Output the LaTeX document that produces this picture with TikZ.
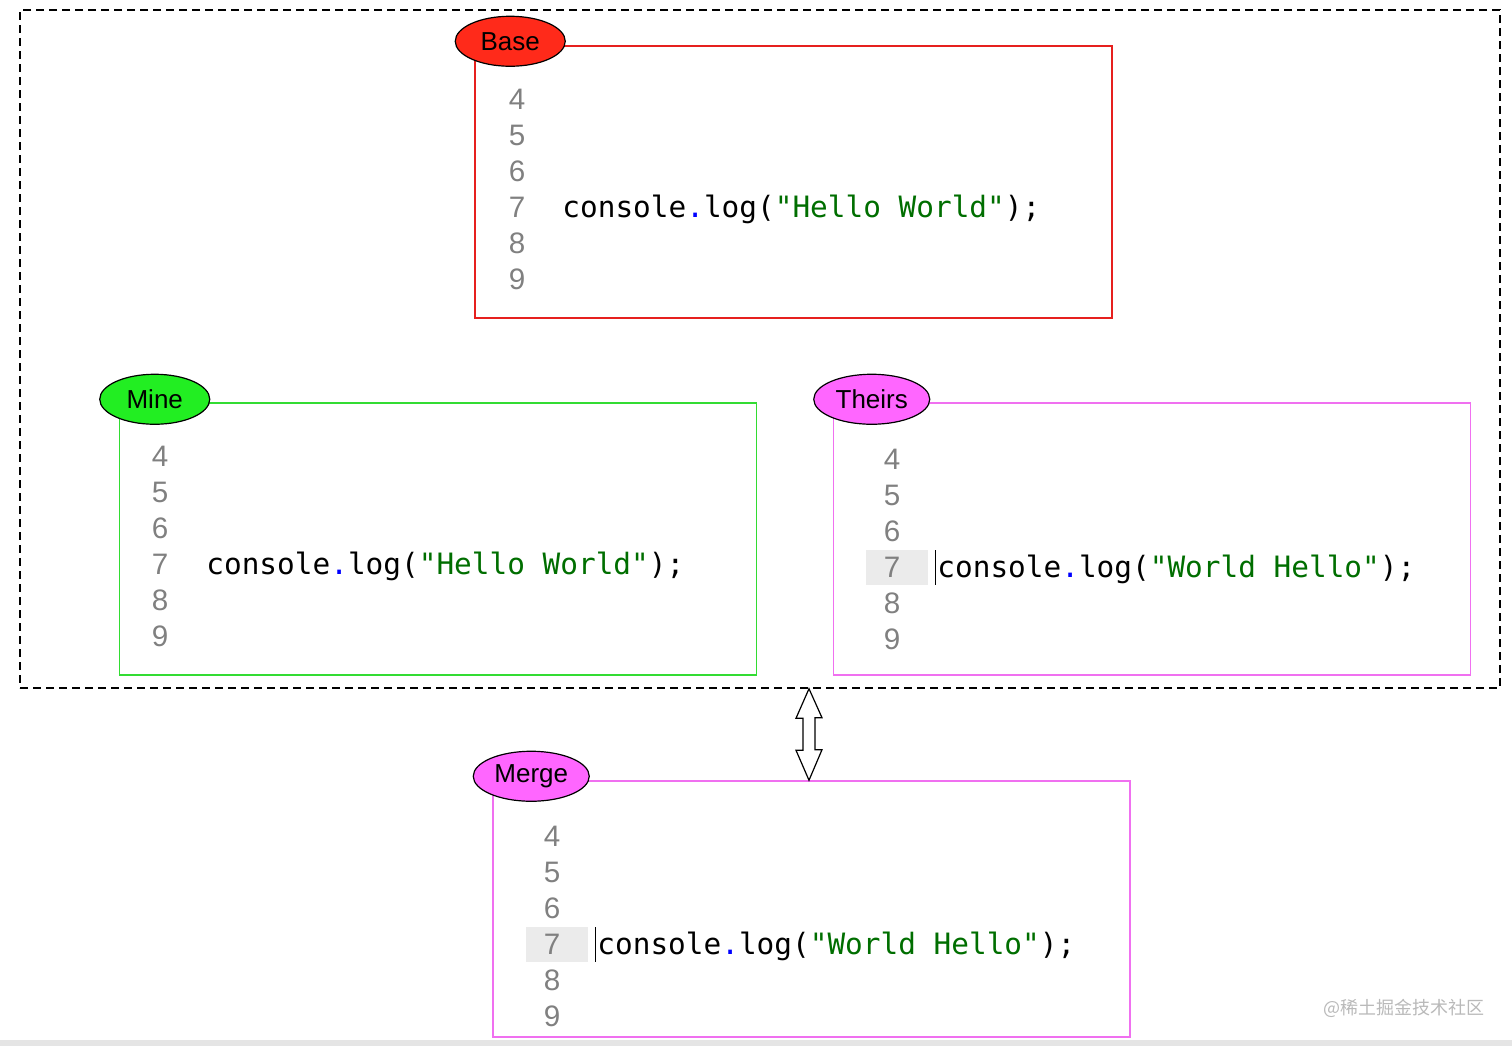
\documentclass[tikz,border=0pt]{standalone}
\usepackage{fontspec}
\setmainfont{Liberation Sans}
\setmonofont{DejaVu Sans Mono}
\newfontfamily\cjk{Noto Sans CJK SC}
\usepackage{tikz}
\usetikzlibrary{positioning,shapes.geometric}
\definecolor{basered}{RGB}{255,42,26}
\definecolor{baseline}{RGB}{230,32,30}
\definecolor{minegreen}{RGB}{34,238,34}
\definecolor{mineline}{RGB}{50,220,50}
\definecolor{theirsfill}{RGB}{255,102,255}
\definecolor{theirsline}{RGB}{240,112,240}
\definecolor{strgreen}{RGB}{0,110,0}
\definecolor{gutter}{RGB}{235,235,235}

\begin{document}
\begin{tikzpicture}[x=0.5pt, y=-0.5pt,
    box/.style = {draw, line width=0.75pt, minimum width=318.5pt, minimum height=136pt, inner sep=0pt},
    tag/.style = {draw, ellipse, line width=0.6pt, minimum width=55pt, minimum height=25pt, inner sep=0pt, font=\fontsize{13}{14}\selectfont},
    lnum/.style = {anchor=base, inner sep=0pt, text=gray, font=\fontsize{14.8}{16}\selectfont},
    code/.style = {anchor=base west, inner sep=0pt, font=\ttfamily\fontsize{14.7}{17}\selectfont}]
    \useasboundingbox (0,0) rectangle (1512,1046);
    \fill[gray!20] (0,1040) rectangle (1512,1046);

    % the three versions
    \node[draw, dashed, dash pattern=on 4pt off 2.5pt, line width=0.7pt, minimum width=740pt, minimum height=339pt, inner sep=0pt] (frame) at (760,349) {};
    \node[box, draw=baseline] (base) at (793.5,182) {};
    \node[box, draw=mineline] (mine) at (438,539) {};
    \node[box, draw=theirsline] (theirs) at (1152,539) {};
    \node[box, draw=theirsline, minimum height=128pt] (merge) at (811.5,909) {};

    \node[tag, fill=basered] (baseTag) at ([shift={(36,-4)}]base.north west) {\raisebox{-1pt}{Base}};
    \node[tag, fill=minegreen] (mineTag) at ([shift={(36,-3)}]mine.north west) {\raisebox{-1pt}{Mine}};
    \node[tag, fill=theirsfill, minimum width=58pt] (theirsTag) at ([shift={(39,-3)}]theirs.north west) {\raisebox{-1pt}{Theirs}};
    \node[tag, fill=theirsfill, minimum width=58pt] (mergeTag) at ([shift={(39,-4)}]merge.north west) {\raisebox{-1pt}{Merge}};

    % line numbers
    \fill[gutter] (866,550) rectangle (928,585);
    \fill[gutter] (526,927) rectangle (588,962);
    \foreach \n [count=\i from 0] in {4,...,9} {
        \node[lnum] (b\n) at (517,109.5+36*\i) {\n};
        \node[lnum] (m\n) at (160,466.5+36*\i) {\n};
        \node[lnum] (t\n) at (892,469.5+36*\i) {\n};
        \node[lnum] (g\n) at (552,846+36*\i) {\n};
    }

    % code
    \node[code] (baseCode) at (562,217) {console\textcolor{blue}{.}log(\textcolor{strgreen}{"Hello World"});};
    \node[code] (mineCode) at (206,574) {console\textcolor{blue}{.}log(\textcolor{strgreen}{"Hello World"});};
    \node[code] (theirsCode) at (937,577) {console\textcolor{blue}{.}log(\textcolor{strgreen}{"World Hello"});};
    \node[code] (mergeCode) at (597,954) {console\textcolor{blue}{.}log(\textcolor{strgreen}{"World Hello"});};
    \draw[line width=0.5pt] (935,550) -- (935,585);
    \draw[line width=0.5pt] (595,927) -- (595,962);

    % merge arrow
    \coordinate (up) at (frame.south -| 809,0);
    \coordinate (down) at (merge.north -| 809,0);
    \draw[fill=white, line width=0.6pt, line join=miter] (up) -- ++(13,29) -- ++(-7,0) -- ++(0,32) -- ++(7,0) -- (down)
        -- ++(-13,-30) -- ++(7,0) -- ++(0,-32) -- ++(-7,0) -- cycle;

    \node[text=gray!55, font=\cjk\fontsize{9}{10}\selectfont] (mark) at (1404,1008) {@稀土掘金技术社区};
\end{tikzpicture}
\end{document}
